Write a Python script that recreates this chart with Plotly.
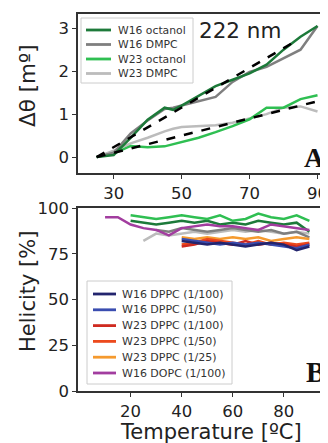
import plotly.graph_objects as go

# ---------- Panel A data (222 nm) ----------
temp_a = [25, 30, 35, 40, 45, 47.5, 50, 55, 60, 65, 70, 75, 80, 85, 90]
w16_octanol_a = [0, 0.05, 0.45, 0.87, 1.15, 1.1, 1.2, 1.42, 1.65, 1.8, 1.95, 2.15, 2.5, 2.8, 3.05]
w16_dmpc_a = [0, 0.1, 0.55, 0.85, 1.12, 1.15, 1.2, 1.3, 1.4, 1.75, 1.98, 2.1, 2.3, 2.5, 3.05]
w23_octanol_a = [0, 0.08, 0.26, 0.23, 0.25, 0.3, 0.36, 0.45, 0.58, 0.72, 0.88, 1.15, 1.15, 1.35, 1.44]
w23_dmpc_a = [0, 0.15, 0.32, 0.45, 0.6, 0.66, 0.7, 0.72, 0.74, 0.8, 0.9, 1.0, 1.15, 1.18, 1.06]
fit_hi_t = [25, 82.5]
fit_hi_v = [0, 2.65]
fit_lo_t = [25, 90]
fit_lo_v = [0, 1.3]

# ---------- Panel B data (helicity) ----------
temp_b_oct = [20, 25, 30, 35, 40, 45, 50, 55, 60, 65, 70, 75, 80, 85, 90]
w23_octanol_b = [96, 95, 94, 95, 96, 95, 94, 96, 93, 94, 97, 95, 94, 96, 93]
w16_octanol_b = [93, 92, 91, 92, 93, 92, 93, 91, 92, 91, 93, 92, 91, 92, 87]
temp_b_w16dmpc = [30, 35, 40, 45, 50, 55, 60, 65, 70, 75, 80, 85, 90]
w16_dmpc_b = [88, 87, 89, 88, 87, 88, 89, 88, 87, 88, 86, 87, 84]
temp_b_w23dmpc = [25, 30, 35, 40, 45, 50, 55, 60, 65, 70, 75, 80, 85, 90]
w23_dmpc_b = [82, 86, 85, 86, 87, 86, 87, 88, 87, 88, 87, 86, 87, 86]
temp_b_dppc = [40, 45, 50, 55, 60, 65, 70, 75, 80, 85, 90]
w16_dppc_100 = [82, 81, 80, 81, 80, 79, 80, 81, 80, 77, 79]
w16_dppc_50 = [83, 82, 81, 80, 81, 80, 81, 80, 79, 78, 80]
w23_dppc_100 = [79, 80, 82, 81, 80, 82, 80, 81, 80, 79, 80]
w23_dppc_50 = [80, 81, 83, 82, 81, 80, 82, 80, 81, 80, 81]
w23_dppc_25 = [84, 83, 84, 83, 84, 83, 84, 82, 83, 84, 83]
temp_b_dopc = [10, 15, 20, 25, 30, 35, 40, 45, 50, 55, 60, 65, 70, 75, 80, 85, 90]
w16_dopc_100 = [95, 95, 91, 89, 88, 85, 89, 90, 91, 90, 90, 89, 88, 91, 90, 89, 88]

legend_a_names = ["W16 octanol", "W16 DMPC", "W23 octanol", "W23 DMPC"]
legend_b_names = ["W16 DPPC (1/100)", "W16 DPPC (1/50)", "W23 DPPC (1/100)",
                  "W23 DPPC (1/50)", "W23 DPPC (1/25)", "W16 DOPC (1/100)"]

C_DKGREEN = "#1d7a3a"
C_GREEN = "#2fbf52"
C_GRAY = "#7f7f7f"
C_LTGRAY = "#bcbcbc"
C_NAVY = "#23256e"
C_BLUE = "#3a4db0"
C_RED = "#cf2a20"
C_ORRED = "#ec4a1d"
C_ORANGE = "#f59a2e"
C_PURPLE = "#a23d9f"
colors_a = [C_DKGREEN, C_GRAY, C_GREEN, C_LTGRAY]
colors_b = [C_NAVY, C_BLUE, C_RED, C_ORRED, C_ORANGE, C_PURPLE]

fig = go.Figure()
LW = 2.5

def add(x, y, color, name, xa, ya, dash=None):
    fig.add_trace(go.Scatter(
        x=x, y=y, mode="lines", name=name,
        line=dict(color=color, width=LW, dash=dash),
        xaxis=xa, yaxis=ya, showlegend=False))

# Panel A
add(temp_a, w23_dmpc_a, C_LTGRAY, "W23 DMPC", "x", "y")
add(temp_a, w23_octanol_a, C_GREEN, "W23 octanol", "x", "y")
add(temp_a, w16_dmpc_a, C_GRAY, "W16 DMPC", "x", "y")
add(temp_a, w16_octanol_a, C_DKGREEN, "W16 octanol", "x", "y")
add(fit_hi_t, fit_hi_v, "black", "fit W16", "x", "y", dash="dash")
add(fit_lo_t, fit_lo_v, "black", "fit W23", "x", "y", dash="dash")

# Panel B
add(temp_b_w23dmpc, w23_dmpc_b, C_LTGRAY, "W23 DMPC", "x2", "y2")
add(temp_b_w16dmpc, w16_dmpc_b, C_GRAY, "W16 DMPC", "x2", "y2")
add(temp_b_oct, w16_octanol_b, C_DKGREEN, "W16 octanol", "x2", "y2")
add(temp_b_oct, w23_octanol_b, C_GREEN, "W23 octanol", "x2", "y2")
add(temp_b_dopc, w16_dopc_100, C_PURPLE, "W16 DOPC (1/100)", "x2", "y2")
add(temp_b_dppc, w23_dppc_25, C_ORANGE, "W23 DPPC (1/25)", "x2", "y2")
add(temp_b_dppc, w23_dppc_50, C_ORRED, "W23 DPPC (1/50)", "x2", "y2")
add(temp_b_dppc, w23_dppc_100, C_RED, "W23 DPPC (1/100)", "x2", "y2")
add(temp_b_dppc, w16_dppc_50, C_BLUE, "W16 DPPC (1/50)", "x2", "y2")
add(temp_b_dppc, w16_dppc_100, C_NAVY, "W16 DPPC (1/100)", "x2", "y2")

# page body has an 8px margin: figure is placed at (8, 8)
OFF = 8
W, H = 328 - OFF, 443 - OFF
def px_x(p):
    return (p - OFF) / W
def px_y(p):
    return 1 - (p - OFF) / H

tickfont = dict(family="DejaVu Sans", size=16.5, color="#222")
axis_common = dict(showline=True, linecolor="#333", linewidth=1.5, mirror=True,
                   ticks="outside", ticklen=4, tickcolor="#333", tickwidth=1.2,
                   showgrid=False, zeroline=False, tickfont=tickfont, automargin=False,
                   ticklabeloverflow="allow")

fig.update_layout(
    width=W, height=H, margin=dict(l=0, r=0, t=0, b=0, autoexpand=False),
    paper_bgcolor="white", plot_bgcolor="white", showlegend=False,
    xaxis=dict(domain=[px_x(78), px_x(326)], range=[19.5, 92.5],
               tickvals=[30, 50, 70, 90], anchor="y", **axis_common),
    yaxis=dict(domain=[px_y(173), px_y(14)], range=[-0.37, 3.33],
               tickvals=[0, 1, 2, 3], anchor="x", **axis_common),
    xaxis2=dict(domain=[px_x(78), px_x(326)], range=[-0.6, 96.5],
                tickvals=[20, 40, 60, 80], anchor="y2", **axis_common),
    yaxis2=dict(domain=[px_y(391), px_y(208)], range=[0, 100],
                tickvals=[0, 25, 50, 75, 100], anchor="x2", **axis_common),
)

def manual_legend(box, names, colors, y0, dy, x_line, x_text, fsize):
    bx0, by0, bx1, by1 = box
    fig.add_shape(type="rect", xref="paper", yref="paper",
                  x0=px_x(bx0), x1=px_x(bx1), y0=px_y(by1), y1=px_y(by0),
                  line=dict(color="#cccccc", width=1), fillcolor="rgba(255,255,255,0.85)",
                  layer="above")
    for i, (n, c) in enumerate(zip(names, colors)):
        yy = y0 + i * dy
        fig.add_shape(type="line", xref="paper", yref="paper",
                      x0=px_x(x_line[0]), x1=px_x(x_line[1]), y0=px_y(yy), y1=px_y(yy),
                      line=dict(color=c, width=2.8), layer="above")
        fig.add_annotation(text=n, x=px_x(x_text), y=px_y(yy), xref="paper", yref="paper",
                           xanchor="left", yanchor="middle", showarrow=False,
                           font=dict(family="DejaVu Sans", size=fsize, color="#333"))

manual_legend((81, 18, 193, 83), legend_a_names, colors_a, 30, 14.5, (86, 111), 116, 10.8)
manual_legend((87, 281, 232, 384), legend_b_names, colors_b, 294, 15.8, (93, 116), 120, 11)

def label(text, x, y, size, angle=0, xanchor="center", family="DejaVu Sans", color="#222"):
    fig.add_annotation(text=text, x=px_x(x), y=px_y(y), xref="paper", yref="paper",
                       xanchor=xanchor, yanchor="middle", textangle=angle, showarrow=False,
                       font=dict(family=family, size=size, color=color))

label("Δθ [mº]", 27, 86, 21.5, angle=-90)
label("Helicity [%]", 28, 292, 21, angle=-90)
label("Temperature [ºC]", 211, 432, 21)
label("222 nm", 240, 30, 21.5)
label("<b>A</b>", 327, 157, 28, xanchor="right", family="Liberation Serif", color="#111")
label("<b>B</b>", 327, 372, 29, xanchor="right", family="Liberation Serif", color="#111")

fig.write_html("out.html")
